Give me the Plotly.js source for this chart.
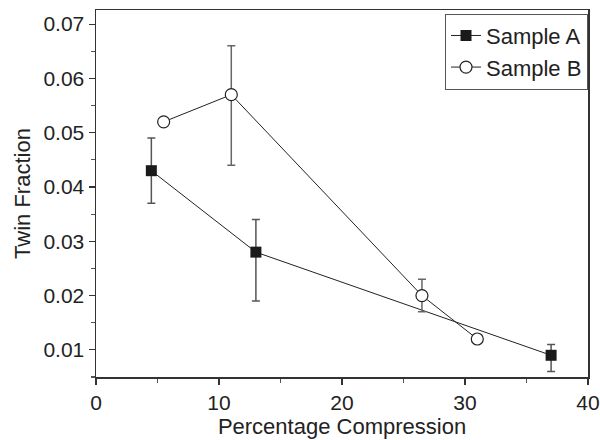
<!DOCTYPE html>
<html>
<head>
<meta charset="utf-8">
<script src="https://cdn.plot.ly/plotly-3.0.1.min.js"></script>
<style>html,body{margin:0;padding:0;background:#fff}#chart{width:600px;height:440px}</style>
</head>
<body>
<div id="chart"></div>
<script>
var seriesNames = ["Sample A", "Sample B"];
var xA = [4.5, 13, 37];
var yA = [0.043, 0.028, 0.009];
var errAplus = [0.006, 0.006, 0.002];
var errAminus = [0.006, 0.009, 0.003];
var xB = [5.5, 11, 26.5, 31];
var yB = [0.052, 0.057, 0.020, 0.012];
var errBplus = [0, 0.009, 0.003, 0];
var errBminus = [0, 0.013, 0.003, 0];
var xTitle = "Percentage Compression";
var yTitle = "Twin Fraction";

var font = "Liberation Sans, Arial, sans-serif";
var fs = 21;
var traces = [
  {
    x: xA, y: yA, name: seriesNames[0], type: "scatter", mode: "lines+markers",
    line: {color: "#222", width: 1},
    marker: {symbol: "square", size: 11, color: "#1a1a1a", line: {color: "#1a1a1a", width: 0}},
    error_y: {type: "data", symmetric: false, array: errAplus, arrayminus: errAminus,
      color: "#555", thickness: 1.5, width: 4}
  },
  {
    x: xB, y: yB, name: seriesNames[1], type: "scatter", mode: "lines+markers",
    line: {color: "#222", width: 1},
    marker: {symbol: "circle", size: 12, color: "#fff", line: {color: "#222", width: 1.2}},
    error_y: {type: "data", symmetric: false, array: errBplus, arrayminus: errBminus,
      color: "#666", thickness: 1.5, width: 4}
  }
];
var layout = {
  width: 600, height: 440,
  margin: {l: 96, r: 12, t: 10, b: 63},
  paper_bgcolor: "#fff", plot_bgcolor: "#fff",
  font: {family: font, size: fs, color: "#222"},
  showlegend: true,
  legend: {x: 1, xanchor: "right", y: 0.99, yanchor: "top",
    bordercolor: "#555", borderwidth: 1, bgcolor: "#fff",
    font: {family: font, size: 22, color: "#222"}, tracegroupgap: 0},
  xaxis: {
    range: [0, 40], tickvals: [0, 10, 20, 30, 40], ticktext: ["0", "10", "20", "30", "40"],
    ticks: "outside", ticklen: 6, tickwidth: 1.2, tickcolor: "#333",
    minor: {dtick: 5, tick0: 0, ticks: "outside", ticklen: 4, tickcolor: "#555", showgrid: false},
    showline: true, linecolor: "#333", linewidth: 1.5, mirror: true,
    showgrid: false, zeroline: false,
    title: {text: xTitle, font: {family: font, size: 22, color: "#222"}, standoff: 0},
    tickfont: {family: font, size: fs, color: "#222"}
  },
  yaxis: {
    range: [0.005, 0.0726], tickvals: [0.01, 0.02, 0.03, 0.04, 0.05, 0.06, 0.07],
    ticktext: ["0.01", "0.02", "0.03", "0.04", "0.05", "0.06", "0.07"],
    ticks: "outside", ticklen: 6, tickwidth: 1.2, tickcolor: "#333",
    minor: {dtick: 0.005, tick0: 0, ticks: "outside", ticklen: 4, tickcolor: "#555", showgrid: false},
    showline: true, linecolor: "#333", linewidth: 1.5, mirror: true,
    showgrid: false, zeroline: false,
    title: {text: yTitle, font: {family: font, size: 22, color: "#222"}, standoff: 6},
    tickfont: {family: font, size: fs, color: "#222"}
  }
};
Plotly.newPlot("chart", traces, layout, {staticPlot: true, displayModeBar: false});
</script>
</body>
</html>
